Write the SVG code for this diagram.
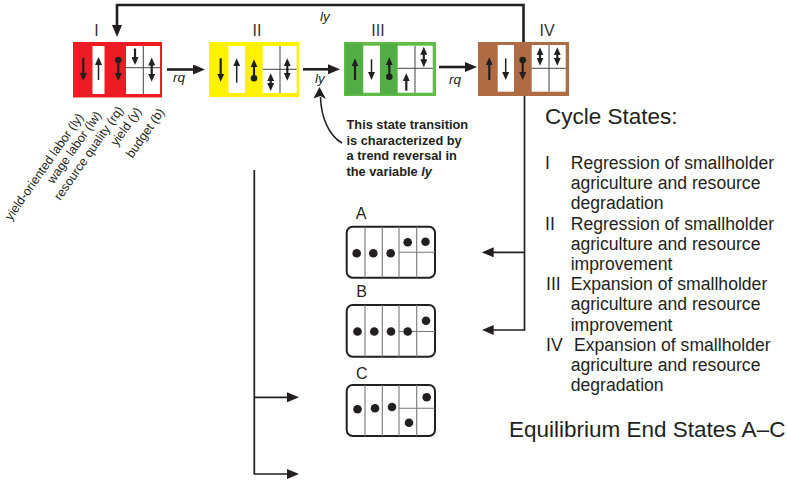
<svg xmlns="http://www.w3.org/2000/svg" width="787" height="483" viewBox="0 0 787 483">
<style>
text{font-family:"Liberation Sans",Arial,sans-serif;fill:#231F20}
.rn{font-size:16px;text-anchor:middle;fill:#333}
.it{font-size:13.5px;font-style:italic}
.rot{font-size:12.5px;text-anchor:end}
.ann{font-size:12.8px;font-weight:bold}
.big{font-size:22.5px}
.li{font-size:17.6px}
.lab{font-size:16px;text-anchor:middle}
.w{fill:#fff}
.gl{stroke:#444;stroke-width:1;fill:none}
.a{stroke:#231F20;stroke-width:2.2;fill:none}
.at{stroke:#231F20;stroke-width:1.5;fill:none}
.con{stroke:#231F20;stroke-width:2.6;fill:none}
.thin{stroke:#231F20;stroke-width:1.7;fill:none}
.dot{fill:#231F20}
.es{fill:#fff;stroke:#231F20;stroke-width:2}
.eg{stroke:#777;stroke-width:1.1;fill:none}
</style>
<defs>
<marker id="as" markerUnits="userSpaceOnUse" viewBox="0 0 8 7" markerWidth="8" markerHeight="7" refX="2.5" refY="3.5" orient="auto-start-reverse"><path d="M0,0 L8,3.5 L0,7 z" fill="#231F20"/></marker>
<marker id="ah" markerUnits="userSpaceOnUse" viewBox="0 0 12 10" markerWidth="12" markerHeight="10" refX="4" refY="5" orient="auto"><path d="M0,0 L12,5 L0,10 z" fill="#231F20"/></marker>
</defs>

<g id="state-I">
<rect x="73" y="42" width="89" height="55.5" fill="#ED1C24"/>
<rect class="w" x="92.5" y="46" width="12" height="48"/>
<rect class="w" x="126" y="46" width="34" height="48"/>
<line class="gl" x1="143.3" y1="46" x2="143.3" y2="94"/>
<line class="gl" x1="126" y1="67.7" x2="160" y2="67.7"/>
<line class="a" x1="83.3" y1="58" x2="83.3" y2="75.5" marker-end="url(#as)"/>
<line class="at" x1="98.5" y1="80" x2="98.5" y2="62.5" marker-end="url(#as)"/>
<circle class="dot" cx="118.3" cy="60" r="3.3"/>
<line class="a" x1="118.3" y1="60" x2="118.3" y2="75.5" marker-end="url(#as)"/>
<line class="a" x1="135" y1="48.5" x2="135" y2="59.5" marker-end="url(#as)"/>
<line class="a" x1="151.7" y1="63" x2="151.7" y2="76.2" marker-start="url(#as)" marker-end="url(#as)"/>
<text class="rn" x="96.5" y="36">I</text>
</g>

<g id="state-II">
<rect x="209" y="42" width="90" height="55" fill="#FFF200"/>
<rect class="w" x="228.5" y="46" width="16.5" height="47"/>
<rect class="w" x="262.7" y="46" width="34" height="47"/>
<line class="gl" x1="280" y1="46" x2="280" y2="93"/>
<line class="gl" x1="262.7" y1="69.3" x2="296.7" y2="69.3"/>
<line class="a" x1="220.7" y1="58.3" x2="220.7" y2="76.2" marker-end="url(#as)"/>
<line class="at" x1="236.7" y1="82.7" x2="236.7" y2="63.8" marker-end="url(#as)"/>
<circle class="dot" cx="254" cy="78.3" r="3.3"/>
<line class="a" x1="254" y1="78.3" x2="254" y2="64.8" marker-end="url(#as)"/>
<line class="a" x1="270.7" y1="78.8" x2="270.7" y2="85.5" marker-start="url(#as)" marker-end="url(#as)"/>
<line class="a" x1="287.3" y1="63.8" x2="287.3" y2="75.2" marker-start="url(#as)" marker-end="url(#as)"/>
<text class="rn" x="257" y="36">II</text>
</g>

<g id="state-III">
<rect x="344" y="42" width="92" height="54" fill="#62BC47"/>
<rect x="345.5" y="43.5" width="17.8" height="51" fill="#52AF45"/>
<rect x="380" y="43.5" width="17.7" height="51" fill="#52AF45"/>
<rect class="w" x="363.3" y="45.7" width="16.7" height="47"/>
<rect class="w" x="397.7" y="45.7" width="35" height="47"/>
<line class="gl" x1="415" y1="45.7" x2="415" y2="92.7"/>
<line class="gl" x1="397.7" y1="68.3" x2="432.7" y2="68.3"/>
<line class="a" x1="355" y1="80" x2="355" y2="63.8" marker-end="url(#as)"/>
<line class="at" x1="371.5" y1="59.3" x2="371.5" y2="74.5" marker-end="url(#as)"/>
<circle class="dot" cx="389.3" cy="76.7" r="3.3"/>
<line class="a" x1="389.3" y1="76.7" x2="389.3" y2="62.8" marker-end="url(#as)"/>
<line class="a" x1="423.8" y1="52.2" x2="423.8" y2="61.8" marker-start="url(#as)" marker-end="url(#as)"/>
<line class="a" x1="406.3" y1="90.7" x2="406.3" y2="78.8" marker-end="url(#as)"/>
<text class="rn" x="378" y="36">III</text>
</g>

<g id="state-IV">
<rect x="478" y="42" width="91" height="54" fill="#AF6B43"/>
<rect class="w" x="497.7" y="45" width="16.3" height="46.7"/>
<rect class="w" x="531.7" y="45" width="34" height="46.7"/>
<line class="gl" x1="549" y1="45" x2="549" y2="91.7"/>
<line class="gl" x1="531.7" y1="68.3" x2="565.7" y2="68.3"/>
<line class="a" x1="489.3" y1="80" x2="489.3" y2="62.8" marker-end="url(#as)"/>
<line class="at" x1="505.7" y1="58.3" x2="505.7" y2="74.5" marker-end="url(#as)"/>
<circle class="dot" cx="522.7" cy="60" r="3.3"/>
<line class="a" x1="522.7" y1="60" x2="522.7" y2="74.5" marker-end="url(#as)"/>
<line class="a" x1="540" y1="52.8" x2="540" y2="60.2" marker-start="url(#as)" marker-end="url(#as)"/>
<line class="a" x1="557.3" y1="52.8" x2="557.3" y2="60.2" marker-start="url(#as)" marker-end="url(#as)"/>
<text class="rn" x="547" y="36">IV</text>
</g>

<g id="variable-labels">
<text class="rot" transform="translate(84,117) rotate(-55)">yield-oriented labor (ly)</text>
<text class="rot" transform="translate(102,115) rotate(-55)">wage labor (lw)</text>
<text class="rot" transform="translate(124,110) rotate(-55)">resource quality (rq)</text>
<text class="rot" transform="translate(142,111) rotate(-55)">yield (y)</text>
<text class="rot" transform="translate(165,112) rotate(-55)">budget (b)</text>
</g>

<g id="connectors">
<line class="con" x1="167" y1="69.5" x2="197" y2="69.5" marker-end="url(#ah)"/>
<line class="con" x1="303" y1="69.3" x2="332" y2="69.3" marker-end="url(#ah)"/>
<line class="con" x1="439" y1="67" x2="469" y2="67" marker-end="url(#ah)"/>
<path class="con" d="M523.5,42 V5 H117 V29" marker-end="url(#ah)"/>
<path class="thin" d="M524.5,96 V330 H489.7" marker-end="url(#ah)"/>
<line class="thin" x1="524.5" y1="252.3" x2="489.7" y2="252.3" marker-end="url(#ah)"/>
<path class="thin" d="M254.3,170 V474 H291" marker-end="url(#ah)"/>
<line class="thin" x1="254.3" y1="397.3" x2="291" y2="397.3" marker-end="url(#ah)"/>
<path class="at" d="M342,143 C329,136 321,117 320.5,97"/>
<path d="M319.5,87 L326,99 L320.3,96 L313.5,98.5 z" fill="#231F20"/>
<text class="it" x="173" y="81.5">rq</text>
<text class="it" x="315" y="82.5">ly</text>
<text class="it" x="449" y="83.5">rq</text>
<text class="it" x="320" y="21">ly</text>
</g>

<g id="annotation">
<text class="ann" x="346.5" y="129">This state transition</text>
<text class="ann" x="346.5" y="144.5">is characterized by</text>
<text class="ann" x="346.5" y="160">a trend reversal in</text>
<text class="ann" x="346.5" y="175.5">the variable <tspan font-style="italic">ly</tspan></text>
</g>

<g id="end-A">
<text class="lab" x="361" y="218.5">A</text>
<rect class="es" x="346.7" y="226.7" width="88.3" height="51" rx="6"/>
<path class="eg" d="M365,226.7 V277.7 M382.3,226.7 V277.7 M399,226.7 V277.7 M416.7,226.7 V277.7 M399,252.3 H435"/>
<circle class="dot" cx="356.7" cy="253.3" r="4.3"/>
<circle class="dot" cx="373.3" cy="253.3" r="4.3"/>
<circle class="dot" cx="390.7" cy="253.3" r="4.3"/>
<circle class="dot" cx="407.7" cy="242.3" r="4.3"/>
<circle class="dot" cx="425.5" cy="241.7" r="4.3"/>
</g>

<g id="end-B">
<text class="lab" x="361.7" y="296.7">B</text>
<rect class="es" x="346.7" y="305" width="88.3" height="51.7" rx="6"/>
<path class="eg" d="M365,305 V356.7 M382.3,305 V356.7 M399,305 V356.7 M416.7,305 V356.7 M399,331.5 H435"/>
<circle class="dot" cx="357.5" cy="331.5" r="4.3"/>
<circle class="dot" cx="374.3" cy="331.5" r="4.3"/>
<circle class="dot" cx="391" cy="331.5" r="4.3"/>
<circle class="dot" cx="407.7" cy="331.5" r="4.3"/>
<circle class="dot" cx="426" cy="320.7" r="4.3"/>
</g>

<g id="end-C">
<text class="lab" x="361.7" y="379">C</text>
<rect class="es" x="346.7" y="385" width="88.3" height="51" rx="6"/>
<path class="eg" d="M365,385 V436 M382.3,385 V436 M399,385 V436 M416.7,385 V436 M399,408.3 H435"/>
<circle class="dot" cx="357.5" cy="409.3" r="4.3"/>
<circle class="dot" cx="375" cy="408.3" r="4.3"/>
<circle class="dot" cx="392" cy="407" r="4.3"/>
<circle class="dot" cx="409" cy="422.7" r="4.3"/>
<circle class="dot" cx="426.7" cy="397.3" r="4.3"/>
</g>

<g id="legend">
<text class="big" x="545" y="124">Cycle States:</text>
<text class="li" x="545" y="169">I</text>
<text class="li" x="570.7" y="169">Regression of smallholder</text>
<text class="li" x="570.7" y="189.2">agriculture and resource</text>
<text class="li" x="570.7" y="209.4">degradation</text>
<text class="li" x="545" y="229.6">II</text>
<text class="li" x="570.7" y="229.6">Regression of smallholder</text>
<text class="li" x="570.7" y="249.8">agriculture and resource</text>
<text class="li" x="570.7" y="270">improvement</text>
<text class="li" x="546" y="290.2">III</text>
<text class="li" x="570.7" y="290.2">Expansion of smallholder</text>
<text class="li" x="570.7" y="310.4">agriculture and resource</text>
<text class="li" x="570.7" y="330.6">improvement</text>
<text class="li" x="546" y="350.8">IV</text>
<text class="li" x="574" y="350.8">Expansion of smallholder</text>
<text class="li" x="570.7" y="371">agriculture and resource</text>
<text class="li" x="570.7" y="391.2">degradation</text>
<text class="big" x="509" y="437">Equilibrium End States A–C</text>
</g>
</svg>
